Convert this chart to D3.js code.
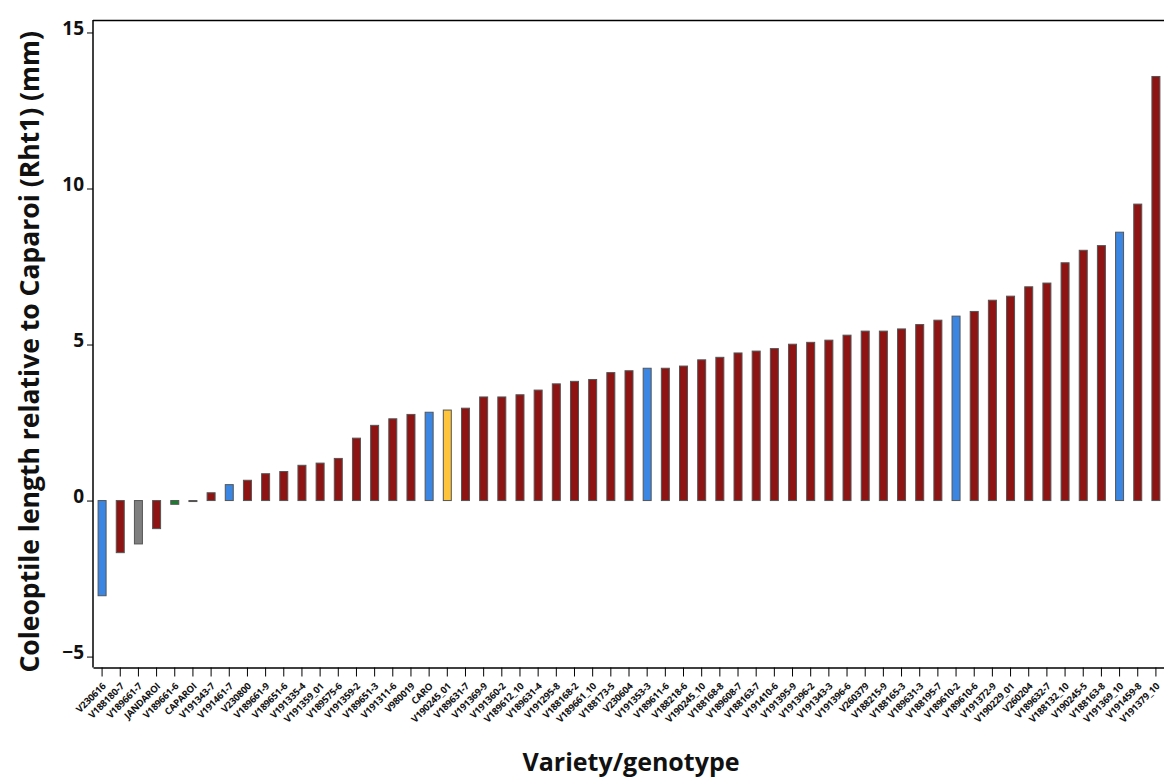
<!DOCTYPE html>
<html>
<head>
<meta charset="utf-8">
<script src="https://cdn.jsdelivr.net/npm/d3@7"></script>
<style>
  body { margin: 0; background: #fff; }
  svg { display: block; font-family: "Open Sans", "Noto Sans", sans-serif; }
</style>
</head>
<body>
<div id="container"></div>
<script>
"use strict";

const width = 1164;
const height = 781;

// data
const varieties = [
  "V230616", "V188180-7", "V189661-7", "JANDAROI", "V189661-6", "CAPAROI",
  "V191343-7", "V191461-7", "V230800", "V189661-9", "V189651-6", "V191335-4",
  "V191359_01", "V189575-6", "V191359-2", "V189651-3", "V191311-6", "V980019",
  "CARO", "V190245_01", "V189631-7", "V191369-9", "V191360-2", "V189612_10",
  "V189631-4", "V191295-8", "V188168-2", "V189661_10", "V188173-5", "V230604",
  "V191353-3", "V189611-6", "V188218-6", "V190245_10", "V188168-8", "V189608-7",
  "V188163-7", "V191410-6", "V191395-9", "V191396-2", "V191343-3", "V191396-6",
  "V260379", "V188215-9", "V188165-3", "V189631-3", "V188195-7", "V189610-2",
  "V189610-6", "V191372-9", "V190229_01", "V260204", "V189632-7", "V188132_10",
  "V190245-5", "V188163-8", "V191369_10", "V191459-8", "V191379_10"
];

const lengths = [
  -3.05, -1.67, -1.39, -0.9, -0.12, 0.0,
  0.25, 0.51, 0.65, 0.86, 0.93, 1.13,
  1.2, 1.35, 2.0, 2.41, 2.62, 2.76,
  2.83, 2.9, 2.96, 3.32, 3.32, 3.39,
  3.54, 3.74, 3.82, 3.88, 4.1, 4.16,
  4.24, 4.24, 4.31, 4.51, 4.59, 4.73,
  4.79, 4.87, 5.01, 5.07, 5.14, 5.3,
  5.43, 5.43, 5.5, 5.64, 5.78, 5.91,
  6.06, 6.42, 6.55, 6.85, 6.97, 7.62,
  8.02, 8.17, 8.6, 9.5, 13.59
];

// group of each variety (sets the bar colour)
const groups = [
  "blue", "red", "gray", "red", "green", "red",
  "red", "blue", "red", "red", "red", "red",
  "red", "red", "red", "red", "red", "red",
  "blue", "yellow", "red", "red", "red", "red",
  "red", "red", "red", "red", "red", "red",
  "blue", "red", "red", "red", "red", "red",
  "red", "red", "red", "red", "red", "red",
  "red", "red", "red", "red", "red", "blue",
  "red", "red", "red", "red", "red", "red",
  "red", "red", "blue", "red", "red"
];

const yTicks = [-5, 0, 5, 10, 15];

const colors = {
  red: "#8e1414",
  blue: "#3a86e2",
  gray: "#7f7f7f",
  green: "#17802c",
  yellow: "#fdc43c"
};

const data = varieties.map((v, i) => ({ name: v, value: lengths[i], group: groups[i] }));

const plotLeft = 93;
const plotRight = 1165;
const plotTop = 20;
const plotBottom = 667.5;

const xScale = d3
  .scaleBand()
  .domain(varieties)
  .range([plotLeft, plotRight])
  .paddingInner(0.56)
  .paddingOuter(0.28);

const yScale = d3
  .scaleLinear()
  .domain([-5.35, 15.4])
  .range([plotBottom, plotTop]);

const svg = d3
  .select("#container")
  .append("svg")
  .attr("width", width)
  .attr("height", height);

// frame top line
svg
  .append("line")
  .attr("x1", plotLeft)
  .attr("x2", width)
  .attr("y1", plotTop + 0.5)
  .attr("y2", plotTop + 0.5)
  .attr("stroke", "#000")
  .attr("stroke-width", 1.5);

svg
  .selectAll("rect.bar")
  .data(data)
  .enter()
  .append("rect")
  .attr("class", "bar")
  .attr("x", (d) => xScale(d.name))
  .attr("width", xScale.bandwidth())
  .attr("y", (d) => Math.min(yScale(d.value), yScale(0)))
  .attr("height", (d) => Math.max(1, Math.abs(yScale(d.value) - yScale(0))))
  .attr("fill", (d) => colors[d.group])
  .attr("stroke", "#555")
  .attr("stroke-width", 1);

const yAxis = d3.axisLeft(yScale).tickValues(yTicks).tickSize(6).tickPadding(3);

const gy = svg
  .append("g")
  .attr("transform", `translate(${plotLeft}, 0)`)
  .call(yAxis);

gy.select(".domain").attr("stroke-width", 1.5).attr("d", `M0,${plotTop}V${plotBottom}`);
gy.selectAll("text")
  .style("font-size", "19px")
  .style("font-weight", "700")
  .style("font-family", "'Open Sans', sans-serif")
  .attr("dy", "0.1em")
  .attr("fill", "#111");

const xAxis = d3.axisBottom(xScale).tickSize(9).tickSizeOuter(0);

const gx = svg
  .append("g")
  .attr("transform", `translate(0, ${plotBottom})`)
  .call(xAxis);

gx.select(".domain").attr("stroke-width", 1.5);
gx.selectAll("text")
  .style("font-size", "9.5px")
  .style("font-weight", "700")
  .style("font-family", "'Open Sans', sans-serif")
  .style("letter-spacing", "-0.2px")
  .attr("text-anchor", "end")
  .attr("x", 0)
  .attr("y", 0)
  .attr("dy", "0.35em")
  .attr("transform", "translate(2, 17) rotate(-45)")
  .attr("fill", "#111");

svg
  .append("text")
  .attr("text-anchor", "middle")
  .attr("transform", `translate(39, ${(plotTop + plotBottom) / 2 + 8}) rotate(-90)`)
  .text("Coleoptile length relative to Caparoi (Rht1) (mm)")
  .style("font-size", "26.5px")
  .style("font-weight", "700")
  .attr("fill", "#111");

svg
  .append("text")
  .attr("text-anchor", "middle")
  .attr("x", 631)
  .attr("y", 771)
  .text("Variety/genotype")
  .style("font-size", "25px")
  .style("font-weight", "700")
  .attr("fill", "#111");
</script>
</body>
</html>
